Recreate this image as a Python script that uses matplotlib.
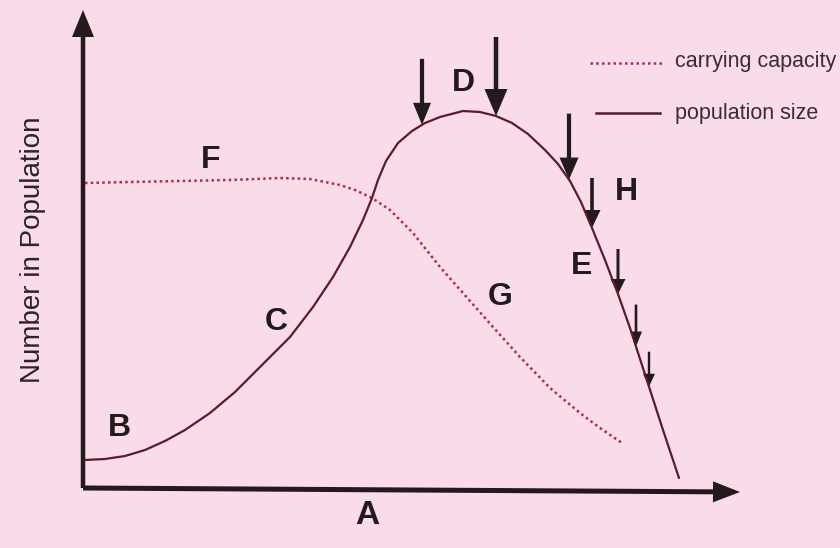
import numpy as np
import matplotlib
matplotlib.use("Agg")
import matplotlib.pyplot as plt

# ---- data (time, number) with origin at axes corner ----
pop_t = [0, 20, 40, 60, 80, 100, 125, 150, 175, 205, 228, 248, 265, 278, 287,
         293, 301, 313, 327, 340, 355, 378,
         395, 411, 427, 443, 460, 473, 485, 496, 507, 520, 533, 545, 556, 567,
         578, 588, 594]
pop_n = [30, 31, 34, 40, 49, 60, 77, 98, 123, 153, 183, 213, 243, 270, 292,
         310, 329, 347, 359, 367, 373, 379,
         378, 374, 367, 356, 340, 326, 309, 288, 262, 230, 196, 162, 128, 94,
         60, 30, 12]

cap_t = [0, 45, 95, 145, 195, 225, 245, 255, 270, 287, 305, 328, 355, 385, 408,
         435, 465, 495, 515, 537]
cap_n = [307, 308, 309, 310, 312, 311, 307, 305, 300, 292, 280, 257, 223, 189,
         163, 133, 102, 77, 62, 47]

arrow_t = [337, 411, 484, 507, 533, 551, 564]
arrow_len = [66, 79, 66, 50, 45, 42, 35]
arrow_shaft = [4.2, 4.5, 4.2, 3.6, 3.0, 2.6, 2.4]
arrow_head_w = [18, 23, 19, 17, 15, 12, 12]
arrow_head_l = [22, 27, 22, 18, 15, 15, 13]

labels = ["A", "B", "C", "D", "E", "F", "G", "H"]
label_t = [282, 34, 191, 378, 497, 126, 415, 541]
label_n = [-26, 62, 168, 407, 224, 330, 193, 298]

ylabel = "Number in Population"
legend_labels = ["carrying capacity", "population size"]

BG = "#f9dbe9"
POP_C = "#5a1c2a"
CAP_C = "#a8303f"
INK = "#221a1d"

fig = plt.figure(figsize=(8.4, 5.48), dpi=100)
fig.patch.set_facecolor(BG)
ax = fig.add_axes([0, 0, 1, 1])
ax.set_facecolor(BG)
ax.set_xlim(-85, 755)
ax.set_ylim(-58, 490)
ax.axis("off")

# axes with arrowheads
ax.arrow(-2, 2, 0, 478, width=4.5, head_width=22, head_length=27,
         length_includes_head=True, color=INK, lw=0)
ax.arrow(-2, 2, 657, -4, width=5, head_width=21, head_length=27,
         length_includes_head=True, color=INK, lw=0)

# curves
ax.plot(cap_t, cap_n, color=CAP_C, lw=1.8, linestyle=(0, (1.0, 1.3)),
        solid_capstyle="butt")
ax.plot(pop_t, pop_n, color=POP_C, lw=1.6, solid_capstyle="round",
        solid_joinstyle="round")

# harvesting arrows (tips sit on the population curve)
peak = int(np.argmax(pop_n))
for t, L, sw, hw, hl in zip(arrow_t, arrow_len, arrow_shaft, arrow_head_w, arrow_head_l):
    if t <= pop_t[peak]:
        tip = np.interp(t, pop_t[:peak + 1], pop_n[:peak + 1])
    else:
        tip = np.interp(t, pop_t[peak:], pop_n[peak:])
    ax.arrow(t, tip + L, 0, -L, width=sw, head_width=hw, head_length=hl,
             length_includes_head=True, color=INK, lw=0)

# letters
for s, x, y in zip(labels, label_t, label_n):
    ax.text(x, y, s, fontsize=23 if s != "A" else 24, fontweight="bold",
            family="Liberation Sans", color=INK, ha="center", va="center")

ax.text(-52, 240, ylabel, rotation=90, fontsize=20, family="Liberation Sans",
        color="#2e2226", ha="center", va="center")

# legend
ax.plot([505, 577], [427, 427], color=CAP_C, lw=1.8, linestyle=(0, (1.0, 1.3)))
ax.plot([511, 575], [377, 377], color=POP_C, lw=1.8)
ax.text(590, 428, legend_labels[0], fontsize=15.5, family="Liberation Sans",
        color="#3a2c31", ha="left", va="center")
ax.text(590, 376, legend_labels[1], fontsize=15.5, family="Liberation Sans",
        color="#3a2c31", ha="left", va="center")

fig.savefig("out.png", dpi=100, facecolor=BG)
